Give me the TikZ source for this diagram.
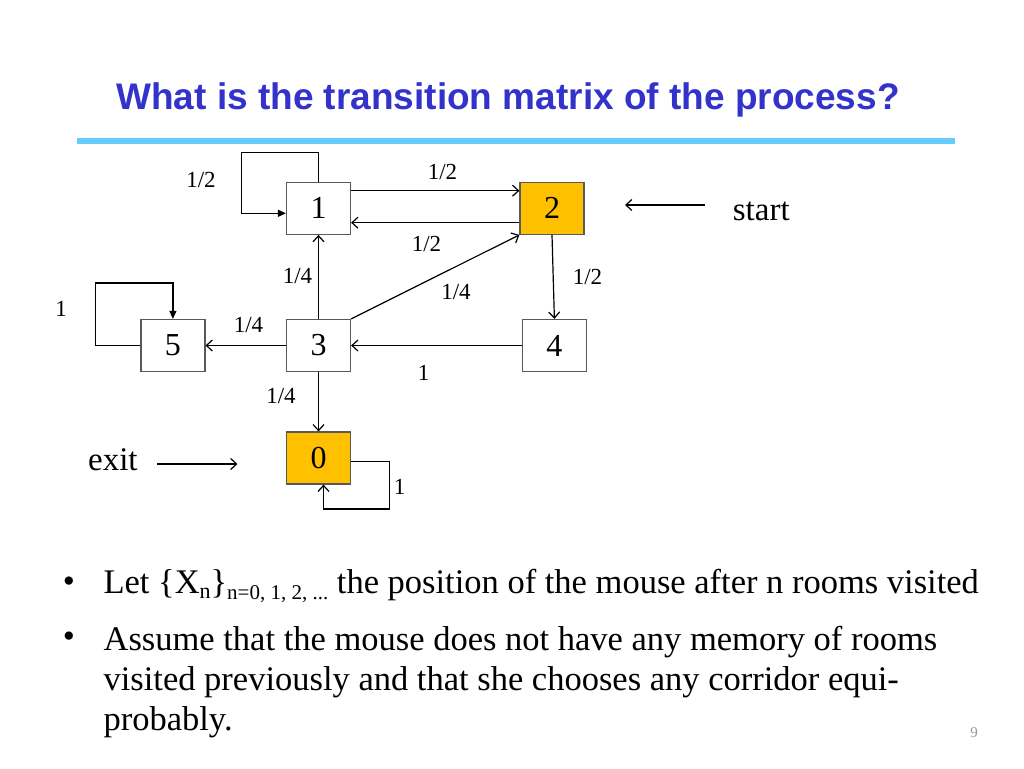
\documentclass[tikz,border=0pt]{standalone}
\usepackage{fontspec}
\setmainfont{Liberation Serif}
\newfontfamily\headfont{Liberation Sans}
\usetikzlibrary{arrows.meta}
\tikzset{>={Straight Barb[length=6pt,width=11pt]}}
\definecolor{roomorange}{HTML}{FFC000}
\definecolor{titleblue}{HTML}{3333CC}
\definecolor{ruleblue}{HTML}{66CCFF}
\tikzset{
  room/.style={draw=black!65, line width=1.2pt, minimum width=64pt, minimum height=52pt, inner sep=0pt, font=\fontsize{32}{36}\selectfont},
  goal/.style={room, fill=roomorange},
  prob/.style={font=\fontsize{23}{26}\selectfont, inner sep=0pt},
  side/.style={font=\fontsize{33}{40}\selectfont, inner sep=0pt, anchor=base west},
  bullettext/.style={side, font=\fontsize{34.5}{40}\selectfont},
  looptip/.style={-{Triangle[length=8pt,width=7pt]}},
}

\begin{document}
\begin{tikzpicture}[x=1pt,y=-1pt,line width=1.2pt]
  \fill[white] (0,0) rectangle (1024,768);
  \useasboundingbox (0,0) rectangle (1024,768);
  % title and rule
  \node[anchor=base, inner sep=0pt, text=titleblue, font=\headfont\bfseries\fontsize{37}{40}\selectfont] (title) at (508,109) {What is the transition matrix of the process?};
  \fill[ruleblue] (77,137.5) rectangle (955,144);

  % rooms
  \node[room] (n1) at (318.5,208.3) {1};
  \node[goal] (n2) at (552,208.3) {2};
  \node[room] (n3) at (318.5,345.5) {3};
  \node[room] (n4) at (554.4,345.5) {4};
  \node[room] (n5) at (172.9,345.5) {5};
  \node[goal] (n0) at (318.5,458) {0};

  % corridors
  \draw[->] ([yshift=17.6pt]n1.east) -- ([yshift=17.6pt]n2.west);
  \draw[->] ([yshift=-14.4pt]n2.west) -- ([yshift=-14.4pt]n1.east);
  \draw[->] (n3) -- (n1);
  \draw[->] (n3.north east) -- (n2.south west);
  \draw[->] (n2.south) -- (n4.north);
  \draw[->] (n4) -- (n3);
  \draw[->] (n3) -- (n5);
  \draw[->] (n3) -- (n0);
  \draw[looptip] (n1.north) -- ++(0,-29) -- ++(-77,0) |- ([yshift=-5pt]n1.west);
  \draw[looptip] (n5.west) -- ++(-45,0) -- ++(0,-62.5) -| (n5.north);
  \draw[->] ([yshift=-3.7pt]n0.east) -- ++(38.5,0) -- ++(0,47.3) -| ([xshift=5pt]n0.south);

  % probabilities
  \node[prob] (p11) at (201,180) {1/2};
  \node[prob] (p12) at (442.5,172) {1/2};
  \node[prob] (p21) at (426.5,244) {1/2};
  \node[prob] (p31) at (297.5,276.5) {1/4};
  \node[prob] (p32) at (456,292.5) {1/4};
  \node[prob] (p24) at (587.5,276.5) {1/2};
  \node[prob] (p43) at (423.5,373) {1};
  \node[prob] (p35) at (248.5,325) {1/4};
  \node[prob] (p30) at (281,396.5) {1/4};
  \node[prob] (p55) at (61,309) {1};
  \node[prob] (p00) at (399.5,486.5) {1};

  % start and exit
  \node[side] (start) at (732.3,220.7) {start};
  \coordinate (starttail) at (705,205);
  \coordinate (starthead) at (625,205);
  \draw[->] (starttail) -- (starthead);
  \node[side] (exit) at (87.5,470) {exit};
  \coordinate (exittail) at (157,464);
  \coordinate (exithead) at (237.5,464);
  \draw[->] (exittail) -- (exithead);

  % bullets
  \node[bullettext, anchor=center] (dot1) at (69,585) {\textbullet};
  \node[bullettext, anchor=center] (dot2) at (69,640) {\textbullet};
  \node[bullettext] (b1) at (103,593) {Let \{X\raisebox{-5pt}{\fontsize{22}{24}\selectfont n}\}\raisebox{-6pt}{\fontsize{21}{24}\selectfont n=0, 1, 2, ...} the position of the mouse after n rooms visited};
  \node[bullettext] (b2) at (103,650) {Assume that the mouse does not have any memory of rooms};
  \node[bullettext] (b3) at (103,690) {visited previously and that she chooses any corridor equi-};
  \node[bullettext] (b4) at (103,730) {probably.};
  \node[text=black!40, font=\fontsize{15}{18}\selectfont] (pagenum) at (974,733) {9};
\end{tikzpicture}
\end{document}
